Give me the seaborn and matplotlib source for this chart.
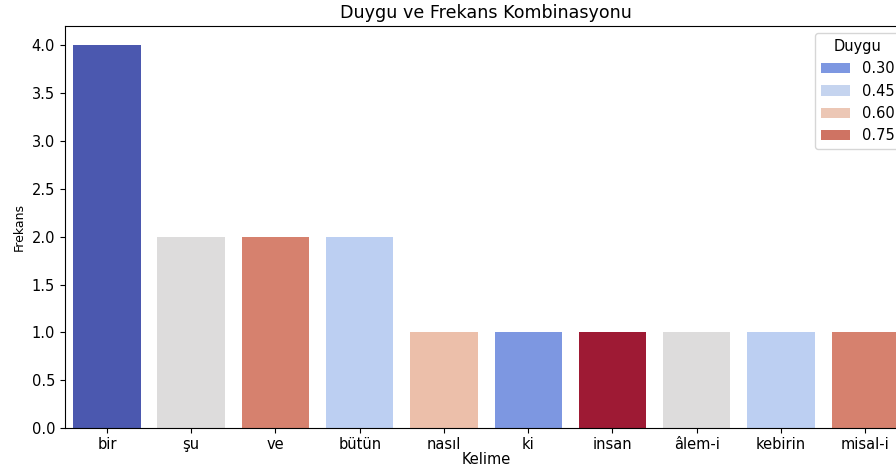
import pandas as pd
import matplotlib.pyplot as plt
import seaborn as sns

kelimeler = ["bir", "şu", "ve", "bütün", "nasıl", "ki", "insan", "âlem-i", "kebirin", "misal-i"]
frekans = [4, 2, 2, 2, 1, 1, 1, 1, 1, 1]
duygu = [0.20, 0.52, 0.73, 0.43, 0.62, 0.30, 0.84, 0.52, 0.43, 0.73]

df = pd.DataFrame({"Kelime": kelimeler, "Frekans": frekans, "Duygu": duygu})

fig = plt.figure(figsize=(8.96, 4.65), dpi=100)
ax = fig.add_axes([0.0723, 0.0789, 0.9404, 0.8654])

sns.barplot(x="Kelime", y="Frekans", hue="Duygu", data=df, palette="coolwarm", ax=ax)

ax.set_title("Duygu ve Frekans Kombinasyonu", fontsize=12.6)
ax.set_xlabel("Kelime", fontsize=10.5, labelpad=0)
ax.set_ylabel("Frekans", fontsize=9)
ax.tick_params(labelsize=10.5)
ax.tick_params(axis="x", pad=2.5)
sns.move_legend(ax, "upper right", title="Duygu", fontsize=10.5, title_fontsize=10.5)

fig.savefig("out.png", dpi=100)
